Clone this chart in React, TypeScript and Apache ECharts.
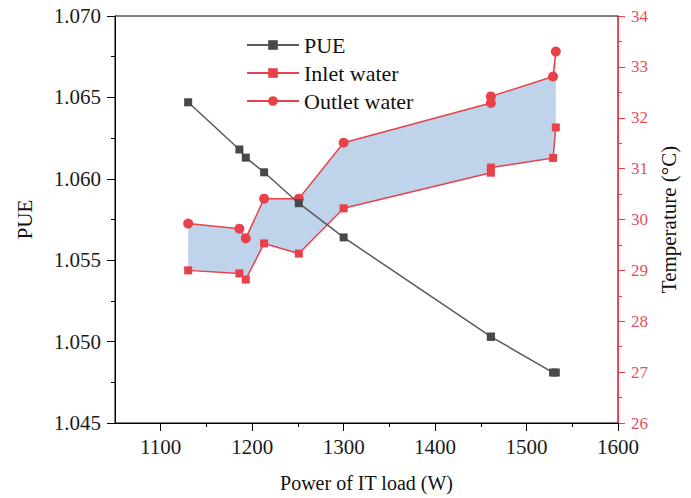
import React, { useEffect, useRef } from "react";
import * as echarts from "echarts";

const powerW = [1130, 1186, 1193, 1213, 1251, 1300, 1461, 1461, 1529, 1532];
const pueValues = [1.0647, 1.0618, 1.0613, 1.0604, 1.0585, 1.0564, 1.0503, 1.0503, 1.0481, 1.0481];
const inletTemp = [29.0, 28.94, 28.82, 29.53, 29.33, 30.22, 30.92, 31.02, 31.21, 31.81];
const outletTemp = [29.92, 29.82, 29.63, 30.41, 30.41, 31.51, 32.29, 32.42, 32.81, 33.3];
const xMajorTicks = [1100, 1200, 1300, 1400, 1500, 1600];
const xMinorTicks = [1150, 1250, 1350, 1450, 1550];

const FONT = "'Liberation Serif', 'Times New Roman', serif";
const RED = "#e8414a";
const RED_LABEL = "#e5505e";
const FILL = "#bfd3ea";

export default function App() {
  const ref = useRef<HTMLDivElement>(null);
  useEffect(() => {
    if (!ref.current) return;
    const chart = echarts.init(ref.current, null, { renderer: "svg" });
    const bandData = powerW.map((x, i) => [x, inletTemp[i], outletTemp[i]]);
    chart.setOption({
      animation: false,
      backgroundColor: "#fff",
      textStyle: { fontFamily: FONT },
      grid: {
        left: 115,
        right: 73,
        top: 16,
        bottom: 75,
        show: true,
        borderColor: "#000",
        borderWidth: 1,
        backgroundColor: "transparent",
      },
      legend: {
        data: ["PUE", "Inlet water", "Outlet water"],
        orient: "vertical",
        left: 241,
        top: 29,
        itemWidth: 52,
        itemHeight: 12,
        itemGap: 6,
        textStyle: { fontFamily: FONT, fontSize: 22, color: "#111", lineHeight: 22 },
      },
      xAxis: [
        {
          type: "value",
          min: 1050,
          max: 1600,
          interval: 50,
          name: "Power of IT load (W)",
          nameLocation: "middle",
          nameGap: 50,
          nameTextStyle: { fontFamily: FONT, fontSize: 20, color: "#111" },
          axisLine: { show: true, lineStyle: { color: "#000", width: 1 } },
          axisTick: { show: true, customValues: xMajorTicks, length: 8, lineStyle: { color: "#000" } },
          axisLabel: {
            customValues: xMajorTicks,
            fontFamily: FONT,
            fontSize: 21,
            color: "#1a1a1a",
            margin: 13,
            formatter: (v: number) => String(v),
          },
          splitLine: { show: false },
        },
        {
          type: "value",
          min: 1050,
          max: 1600,
          interval: 50,
          position: "bottom",
          axisLine: { show: false },
          axisTick: { show: true, customValues: xMinorTicks, length: 4, lineStyle: { color: "#000" } },
          axisLabel: { show: false },
          splitLine: { show: false },
        },
      ],
      yAxis: [
        {
          type: "value",
          min: 1.045,
          max: 1.07,
          interval: 0.005,
          name: "PUE",
          nameLocation: "middle",
          nameGap: 80,
          nameTextStyle: { fontFamily: FONT, fontSize: 21, color: "#111" },
          axisLine: { show: true, lineStyle: { color: "#000", width: 1 } },
          axisTick: { show: true, length: 8, lineStyle: { color: "#000" } },
          minorTick: { show: true, splitNumber: 2, length: 4, lineStyle: { color: "#000" } },
          axisLabel: {
            fontFamily: FONT,
            fontSize: 21,
            color: "#1a1a1a",
            margin: 14,
            formatter: (v: number) => v.toFixed(3),
          },
          splitLine: { show: false },
        },
        {
          type: "value",
          min: 26,
          max: 34,
          interval: 1,
          position: "right",
          name: "Temperature (°C)",
          nameLocation: "middle",
          nameGap: 40,
          nameTextStyle: { fontFamily: FONT, fontSize: 21, color: "#111" },
          axisLine: { show: true, lineStyle: { color: RED, width: 1 } },
          axisTick: { show: true, length: 7, lineStyle: { color: RED } },
          minorTick: { show: true, splitNumber: 2, length: 4, lineStyle: { color: RED } },
          axisLabel: { fontFamily: FONT, fontSize: 17, color: RED_LABEL, margin: 13 },
          splitLine: { show: false },
        },
      ],
      series: [
        {
          name: "band",
          type: "custom",
          xAxisIndex: 0,
          yAxisIndex: 1,
          z: 1,
          silent: true,
          data: bandData,
          encode: { x: 0, y: [1, 2] },
          renderItem: (params: any, api: any) => {
            if (params.dataIndex !== 0) return { type: "group", children: [] };
            const top = powerW.map((x, i) => api.coord([x, outletTemp[i]]));
            const bottom = powerW.map((x, i) => api.coord([x, inletTemp[i]])).reverse();
            return {
              type: "polygon",
              shape: { points: top.concat(bottom) },
              style: { fill: FILL, stroke: "none" },
            };
          },
        },
        {
          name: "PUE",
          type: "line",
          xAxisIndex: 0,
          yAxisIndex: 0,
          z: 3,
          data: powerW.map((x, i) => [x, pueValues[i]]),
          symbol: "rect",
          symbolSize: 8,
          lineStyle: { color: "#5a5a5a", width: 1.5 },
          itemStyle: { color: "#484848" },
        },
        {
          name: "Inlet water",
          type: "line",
          xAxisIndex: 0,
          yAxisIndex: 1,
          z: 2,
          data: powerW.map((x, i) => [x, inletTemp[i]]),
          symbol: "rect",
          symbolSize: 8,
          lineStyle: { color: RED, width: 1.5 },
          itemStyle: { color: RED },
        },
        {
          name: "Outlet water",
          type: "line",
          xAxisIndex: 0,
          yAxisIndex: 1,
          z: 2,
          data: powerW.map((x, i) => [x, outletTemp[i]]),
          symbol: "circle",
          symbolSize: 10,
          lineStyle: { color: RED, width: 1.5 },
          itemStyle: { color: RED },
        },
      ],
    });
    return () => chart.dispose();
  }, []);
  return (
    <div
      ref={ref}
      style={{ position: "absolute", left: 0, top: 0, width: 691, height: 498, background: "#fff" }}
    />
  );
}
